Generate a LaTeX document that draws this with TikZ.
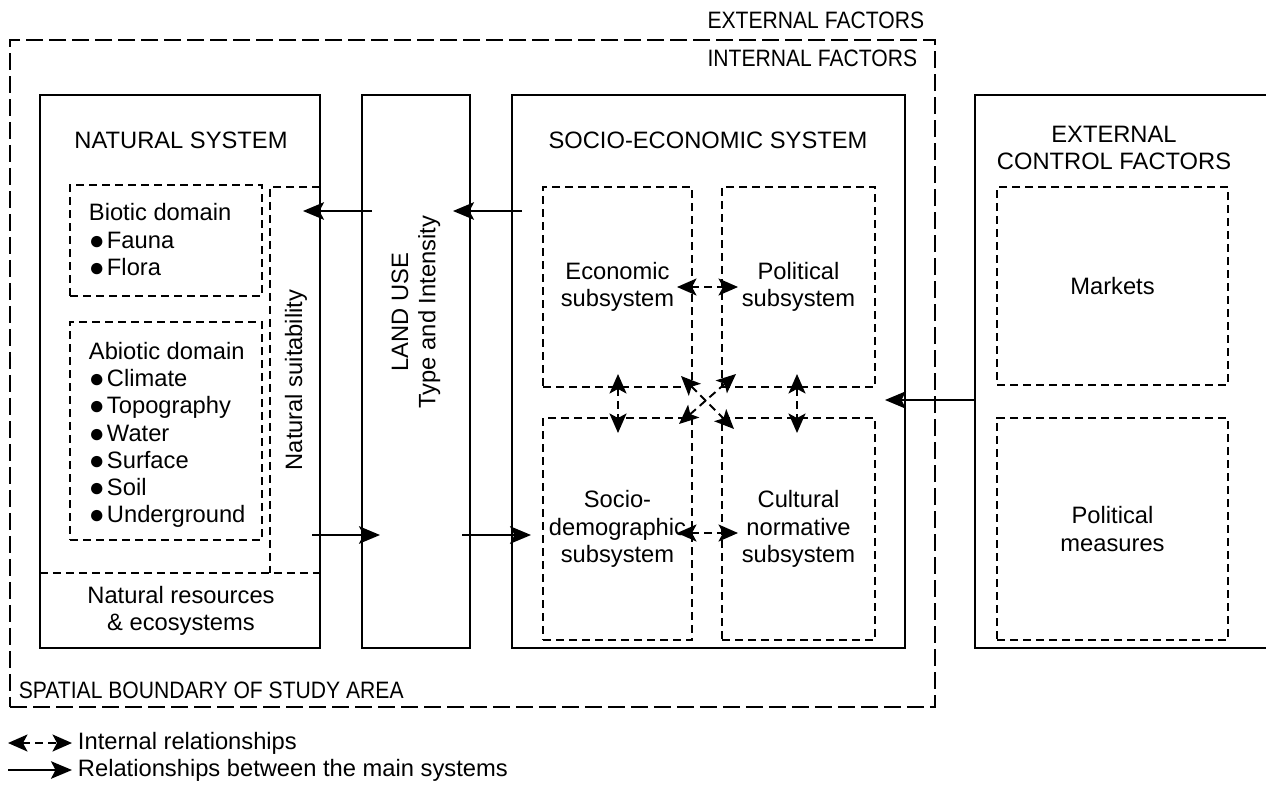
\documentclass[tikz,border=0pt]{standalone}
\usepackage{fontspec}
\setmainfont{Liberation Sans}
\usetikzlibrary{arrows.meta}
\newcommand\blt{\raisebox{-0.6pt}{\fontsize{15}{0}\selectfont ●}\hspace{1.2pt}}
\begin{document}
\begin{tikzpicture}[x=0.02cm, y=-0.02cm, line width=1.1pt,
  sys box/.style={draw, minimum height=11.06cm, inner sep=0pt},
  sub box/.style={draw, dash pattern=on 0.16cm off 0.1cm, inner sep=0pt, font=\fontsize{13.5}{15.5}\selectfont, align=center},
  lbl/.style={font=\fontsize{13.5}{15.5}\selectfont, align=center, inner sep=0pt},
  cond lbl/.style={lbl, xscale=0.89},
  main arrow/.style={-{Stealth[length=4.2mm,width=3.5mm,inset=0.9mm]}},
  int arrow/.style={{Stealth[length=3.9mm,width=3.4mm,inset=0.9mm]}-{Stealth[length=3.9mm,width=3.4mm,inset=0.9mm]}, dash pattern=on 0.16cm off 0.1cm}]
\useasboundingbox (0,0) rectangle (1266,784);
% study area
\node[draw, line width=1.4pt, dash pattern=on 0.34cm off 0.12cm, minimum width=18.5cm, minimum height=13.34cm, inner sep=0pt] (area) at (472.5,373.5) {};
\node[cond lbl, anchor=east] (ext lbl) at (925,20) {EXTERNAL FACTORS};
\node[cond lbl, anchor=east] (int lbl) at (918,58) {INTERNAL FACTORS};
\node[cond lbl, anchor=west] (area lbl) at (18,690) {SPATIAL BOUNDARY OF STUDY AREA};
% main systems
\begin{scope}
\node[sys box, minimum width=5.6cm] (nat) at (180,371.5) {};
\node[sys box, minimum width=2.16cm] (land) at (416,371.5) {};
\node[sys box, minimum width=7.86cm] (socio) at (708.5,371.5) {};
\node[sys box, minimum width=6.5cm] (ext) at (1137.5,371.5) {};
\end{scope}
% natural system
\node[lbl] (nat title) at (181,140) {NATURAL SYSTEM};
\node[sub box, minimum width=3.84cm, minimum height=2.22cm] (biotic) at (166,240.5) {};
\node[sub box, minimum width=3.84cm, minimum height=4.36cm] (abiotic) at (166,431) {};
\draw[sub box] (320,187) -| (270,573);
\draw[sub box] (40,573) -- (320,573);
\node[lbl, anchor=west, align=left] (biotic txt) at (88,240) {Biotic domain\\\blt Fauna\\\blt Flora};
\node[lbl, anchor=west, align=left] (abiotic txt) at (88,435) {Abiotic domain\\\blt Climate\\\blt Topography\\\blt Water\\\blt Surface\\\blt Soil\\\blt Underground};
\node[lbl, rotate=90] (suit txt) at (296,380) {Natural suitability};
\node[lbl] (res txt) at (181,611) {Natural resources\\\& ecosystems};
% land use
\node[lbl, rotate=90] (land txt) at (416,312) {LAND USE\\Type and Intensity};
% socio-economic system
\node[lbl] (socio title) at (708,140) {SOCIO-ECONOMIC SYSTEM};
\node[sub box, minimum width=2.98cm, minimum height=4cm] (econ) at (617.5,287) {Economic\\subsystem};
\node[sub box, minimum width=3.06cm, minimum height=4cm] (pol) at (798.5,287) {Political\\subsystem};
\node[sub box, minimum width=2.98cm, minimum height=4.44cm] (sdem) at (617.5,529) {Socio-\\demographic\\subsystem};
\node[sub box, minimum width=3.06cm, minimum height=4.44cm] (cult) at (798.5,529) {Cultural\\normative\\subsystem};
% external control factors
\node[lbl] (ext title) at (1114,148) {EXTERNAL\\CONTROL FACTORS};
\node[sub box, minimum width=4.62cm, minimum height=3.96cm] (markets) at (1112.5,286) {Markets};
\node[sub box, minimum width=4.62cm, minimum height=4.44cm] (measures) at (1112.5,529) {Political\\measures};
% arrow ends
\coordinate (lu top) at (372,211);
\coordinate (ns top) at (303,211);
\coordinate (se top) at (522,211);
\coordinate (lu top r) at (453,211);
\coordinate (ns bot) at (312,535);
\coordinate (lu bot) at (380,535);
\coordinate (lu bot r) at (462,535);
\coordinate (se bot) at (531,535);
\coordinate (ecf) at (975,400);
\coordinate (se r) at (885,400);
\begin{scope}
\draw[main arrow] (lu top) -- (ns top);
\draw[main arrow] (se top) -- (lu top r);
\draw[main arrow] (ns bot) -- (lu bot);
\draw[main arrow] (lu bot r) -- (se bot);
\draw[main arrow] (ecf) -- (se r);
\end{scope}
% internal relationships
\coordinate (ep) at (677,287);
\coordinate (pe) at (738,287);
\coordinate (sc) at (677,533);
\coordinate (cs) at (738,533);
\coordinate (es) at (618,374);
\coordinate (se) at (618,433);
\coordinate (pc) at (797,374);
\coordinate (cp) at (797,433);
\coordinate (ec) at (681,376);
\coordinate (ce) at (734,429);
\coordinate (ps) at (736,374);
\coordinate (sp) at (679,424);
\begin{scope}
\draw[int arrow] (ep) -- (pe);
\draw[int arrow] (sc) -- (cs);
\draw[int arrow] (es) -- (se);
\draw[int arrow] (pc) -- (cp);
\draw[int arrow] (ec) -- (ce);
\draw[int arrow] (ps) -- (sp);
\end{scope}
% legend
\coordinate (leg1a) at (8,743);
\coordinate (leg1b) at (72,743);
\coordinate (leg2a) at (8,770);
\coordinate (leg2b) at (72,770);
\draw[int arrow] (leg1a) -- (leg1b);
\draw[main arrow] (leg2a) -- (leg2b);
\node[lbl, anchor=west] (leg1) at (77,743) {Internal relationships};
\node[lbl, anchor=west] (leg2) at (77,770) {Relationships between the main systems};
\end{tikzpicture}
\end{document}
